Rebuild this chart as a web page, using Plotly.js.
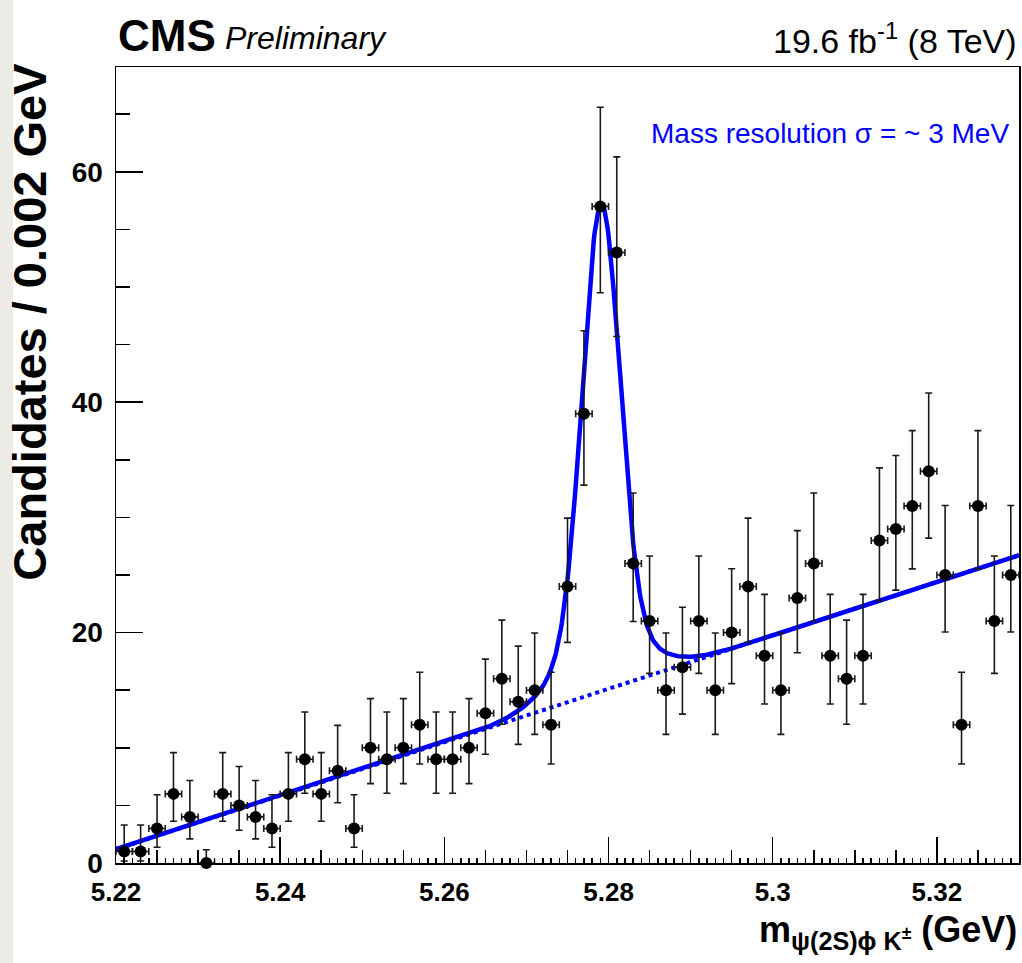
<!DOCTYPE html>
<html><head><meta charset="utf-8">
<script src="https://cdn.plot.ly/plotly-3.0.1.min.js"></script>
<style>html,body{margin:0;padding:0;background:#fff}#chart{width:1022px;height:963px}</style>
</head><body><div id="chart"></div>
<script>
// ---- data ----
const binCenters = [5.221,5.223,5.225,5.227,5.229,5.231,5.233,5.235,5.237,5.239,
  5.241,5.243,5.245,5.247,5.249,5.251,5.253,5.255,5.257,5.259,
  5.261,5.263,5.265,5.267,5.269,5.271,5.273,5.275,5.277,5.279,
  5.281,5.283,5.285,5.287,5.289,5.291,5.293,5.295,5.297,5.299,
  5.301,5.303,5.305,5.307,5.309,5.311,5.313,5.315,5.317,5.319,
  5.321,5.323,5.325,5.327,5.329];
const counts = [1,1,3,6,4,0,6,5,4,3,
  6,9,6,8,3,10,9,10,12,9,
  9,10,13,16,14,15,12,24,39,57,
  53,26,21,15,17,21,15,20,24,18,
  15,23,26,18,16,18,28,29,31,34,
  25,12,31,21,25];
const errHigh = [2.30,2.30,2.92,3.58,3.16,1.15,3.58,3.38,3.16,2.92,
  3.58,4.11,3.58,3.95,2.92,4.27,4.11,4.27,4.56,4.11,
  4.11,4.27,4.70,5.08,4.83,4.96,4.56,5.94,7.20,8.60,
  8.30,6.12,5.65,4.96,5.20,5.65,4.96,5.54,5.94,5.32,
  4.96,5.85,6.12,5.32,5.08,5.32,6.30,6.38,6.53,6.80,
  6.03,4.56,6.53,5.65,6.03];
const errLow = [0.83,0.83,1.63,2.38,1.91,0.00,2.38,2.16,1.91,1.63,
  2.38,2.94,2.38,2.77,1.63,3.11,2.94,3.11,3.41,2.94,
  2.94,3.11,3.56,3.96,3.70,3.83,3.41,4.85,6.20,7.50,
  7.30,5.04,4.54,3.83,4.08,4.54,3.83,4.43,4.85,4.20,
  3.83,4.75,5.04,4.20,3.96,4.20,5.22,5.31,5.47,5.80,
  4.95,3.41,5.47,4.54,4.95];
const binHalfWidth = 0.001;

// fit model parameters (linear background + double Gaussian signal)
const fitRange = [5.22, 5.33];
const bkgAtStart = 1.2;     // candidates at 5.22 GeV
const bkgSlope = 232;       // candidates per GeV
const sigMean = 5.2791;
const sigAmp1 = 37.3, sigWidth1 = 0.00225;
const sigAmp2 = 5.0,  sigWidth2 = 0.005;

const xTickVals = [5.22,5.24,5.26,5.28,5.30,5.32];
const xTickText = ['5.22','5.24','5.26','5.28','5.3','5.32'];
const yTickVals = [0,20,40,60];

// ---- fit curves ----
function bkg(x){ return bkgAtStart + bkgSlope*(x - fitRange[0]); }
function sig(x){
  const d = x - sigMean;
  return sigAmp1*Math.exp(-d*d/(2*sigWidth1*sigWidth1)) + sigAmp2*Math.exp(-d*d/(2*sigWidth2*sigWidth2));
}
const curveX = [], curveTot = [], curveBkg = [];
const nStep = 1100;
for (let i = 0; i <= nStep; i++) {
  const x = fitRange[0] + (fitRange[1]-fitRange[0])*i/nStep;
  curveX.push(x); curveBkg.push(bkg(x)); curveTot.push(bkg(x)+sig(x));
}

const FONT = 'Liberation Sans, Arial, Helvetica, sans-serif';
const traces = [
  {x: curveX, y: curveBkg, mode: 'lines', line: {color: '#0000ff', width: 4, dash: 'dot'}, hoverinfo: 'skip', showlegend: false},
  {x: curveX, y: curveTot, mode: 'lines', line: {color: '#0000ff', width: 4.5}, hoverinfo: 'skip', showlegend: false},
  {x: binCenters, y: counts, mode: 'markers', cliponaxis: false,
   marker: {color: '#000', size: 12},
   error_y: {type: 'data', symmetric: false, array: errHigh, arrayminus: errLow, color: '#1a1a1a', thickness: 1.6, width: 3.5},
   error_x: {type: 'constant', value: binHalfWidth, color: '#1a1a1a', thickness: 1.6, width: 3.5},
   showlegend: false},
  {x: [], y: [], xaxis: 'x2', yaxis: 'y', showlegend: false}
];

const layout = {
  width: 1022, height: 963,
  margin: {l: 116, r: 3, t: 67, b: 100, autoexpand: false},
  paper_bgcolor: '#ffffff', plot_bgcolor: '#ffffff',
  font: {family: FONT, color: '#000'},
  showlegend: false,
  xaxis: {
    range: fitRange, tickvals: xTickVals, ticktext: xTickText,
    ticks: 'inside', ticklen: 26, tickwidth: 1.5, tickcolor: '#000',
    showline: true, linecolor: '#000', linewidth: 1.5, mirror: true,
    showgrid: false, zeroline: false, automargin: false,
    tickfont: {family: FONT, size: 26, weight: 'bold', color: '#000'},
    ticklabelstandoff: 5,
    minor: {tick0: 5.22, dtick: 0.005, ticks: 'inside', ticklen: 13, tickwidth: 1.5, tickcolor: '#000', showgrid: false}
  },
  xaxis2: {
    range: fitRange, overlaying: 'x', anchor: 'y', side: 'bottom',
    tick0: 5.22, dtick: 0.001, ticks: 'inside', ticklen: 5, tickwidth: 1.5, tickcolor: '#000',
    showticklabels: false, showline: false, showgrid: false, zeroline: false
  },
  yaxis: {
    range: [0, 69.1], tickvals: yTickVals,
    ticks: 'inside', ticklen: 27, tickwidth: 1.5, tickcolor: '#000',
    showline: true, linecolor: '#000', linewidth: 1.5, mirror: true,
    showgrid: false, zeroline: false, automargin: false,
    tickfont: {family: FONT, size: 28, weight: 'bold', color: '#000'},
    ticklabelstandoff: 6,
    minor: {tick0: 0, dtick: 5, ticks: 'inside', ticklen: 14, tickwidth: 1.5, tickcolor: '#000', showgrid: false}
  },
  shapes: [
    {type: 'rect', xref: 'paper', yref: 'paper', x0: -0.1285, x1: -0.114, y0: -0.1256, y1: 1.0842,
     fillcolor: '#ecebe6', line: {width: 0}, layer: 'below'}
  ],
  annotations: [
    {xref: 'paper', yref: 'paper', x: 0.0, y: 1.040, xanchor: 'left', yanchor: 'middle', showarrow: false,
     text: '<b>CMS</b>', font: {family: FONT, size: 44, color: '#000'}},
    {xref: 'paper', yref: 'paper', x: 0.119, y: 1.036, xanchor: 'left', yanchor: 'middle', showarrow: false,
     text: '<i>Preliminary</i>', font: {family: FONT, size: 32, color: '#000'}},
    {xref: 'paper', yref: 'paper', x: 1.0, y: 1.036, xanchor: 'right', yanchor: 'middle', showarrow: false,
     text: '19.6 fb<sup>-1</sup> (8 TeV)', font: {family: FONT, size: 34, color: '#000'}},
    {xref: 'paper', yref: 'paper', x: 0.5903, y: 0.917, xanchor: 'left', yanchor: 'middle', showarrow: false,
     text: 'Mass resolution σ = ~ 3 MeV', font: {family: FONT, size: 28, color: '#0000ff'}},
    {xref: 'paper', yref: 'paper', x: -0.0952, y: 1.008, xanchor: 'center', yanchor: 'top', textangle: -90, showarrow: false,
     text: '<b>Candidates / 0.002 GeV</b>', font: {family: FONT, size: 47, color: '#000'}},
    {xref: 'paper', yref: 'paper', x: 1.0, y: -0.087, xanchor: 'right', yanchor: 'middle', showarrow: false,
     text: '<b>m<sub>ψ(2S)ϕ K<sup>±</sup></sub> (GeV)</b>', font: {family: FONT, size: 36, color: '#000'}}
  ]
};

Plotly.newPlot('chart', traces, layout, {staticPlot: true, displayModeBar: false});
</script>
</body></html>
